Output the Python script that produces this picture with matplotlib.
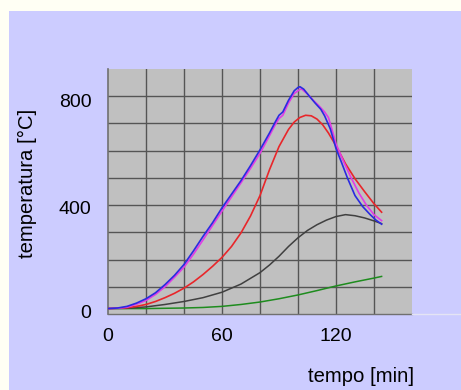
import matplotlib
matplotlib.use("Agg")
import matplotlib.pyplot as plt
from matplotlib.patches import Rectangle
from matplotlib.lines import Line2D
from matplotlib.transforms import ScaledTranslation

plt.rcParams['font.family'] = ['Liberation Sans', 'DejaVu Sans']

# Data (tempo [min], temperatura [°C])
blue_x = [0, 5, 10, 15, 20, 25, 30, 35, 40, 45, 50, 55, 60, 65, 70, 75, 80, 85, 88, 90, 92, 95, 98, 100, 101, 103, 106, 109, 112, 114, 117, 120, 123, 126, 130, 134, 138, 141, 144]
blue_y = [20, 22, 28, 40, 56, 78, 108, 142, 182, 232, 285, 335, 390, 440, 490, 545, 603, 665, 705, 730, 742, 785, 820, 832, 835, 826, 800, 775, 752, 728, 680, 608, 555, 500, 435, 395, 365, 345, 330]

magenta_x = [0, 5, 10, 15, 20, 25, 30, 35, 40, 45, 50, 55, 60, 65, 70, 75, 80, 85, 88, 90, 92, 95, 98, 101, 102, 105, 108, 111, 114, 116, 118, 120, 124, 128, 132, 136, 140, 144]
magenta_y = [20, 21, 25, 36, 50, 72, 100, 135, 172, 220, 272, 325, 378, 430, 482, 535, 590, 655, 695, 718, 730, 775, 810, 825, 826, 808, 785, 765, 742, 722, 675, 625, 560, 500, 445, 400, 365, 343]

red_x = [0, 10, 15, 20, 25, 30, 35, 40, 45, 50, 55, 60, 65, 70, 75, 80, 85, 90, 95, 98, 101, 104, 107, 110, 113, 116, 120, 125, 130, 135, 140, 144]
red_y = [20, 23, 28, 35, 46, 60, 76, 95, 118, 145, 175, 208, 248, 298, 360, 435, 530, 615, 678, 705, 722, 730, 728, 716, 695, 665, 618, 552, 497, 450, 405, 374]

black_x = [0, 10, 20, 30, 40, 50, 60, 70, 80, 85, 90, 95, 100, 105, 110, 115, 120, 125, 130, 135, 140, 144]
black_y = [20, 21, 26, 35, 46, 60, 80, 110, 152, 180, 212, 248, 280, 307, 328, 345, 358, 365, 361, 353, 342, 332]

green_x = [0, 20, 40, 50, 60, 70, 80, 90, 100, 110, 120, 130, 140, 144]
green_y = [20, 20, 22, 24, 28, 35, 44, 56, 70, 86, 103, 118, 132, 138]

x_ticks = [0, 60, 120]
y_ticks = [0, 400, 800]

W, H = 461, 390
fig = plt.figure(figsize=(W / 100, H / 100), dpi=100, facecolor='#FFFFF4')
bg = Rectangle((9 / W, 0), 1 - 9 / W, 1 - 11 / H, transform=fig.transFigure,
               facecolor='#CCCCFF', edgecolor='none', zorder=-10)
fig.add_artist(bg)

left, right, top, bottom = 108, 412, 69, 314
ax = fig.add_axes([left / W, 1 - bottom / H, (right - left) / W, (bottom - top) / H])
ax.set_zorder(1)
ax.set_facecolor('#C0C0C0')
ax.set_xlim(0, 160)
ax.set_ylim(0, 900)

for gx in range(20, 160, 20):
    ax.axvline(gx, color='#555555', lw=1.0, zorder=1)
for gy in range(100, 900, 100):
    ax.axhline(gy, color='#555555', lw=1.0, zorder=1)

for s in ['top', 'right']:
    ax.spines[s].set_visible(False)
ax.spines['left'].set_color('#707070')
ax.spines['bottom'].set_color('#707070')
ax.spines['left'].set_linewidth(1.2)
ax.spines['bottom'].set_linewidth(1.0)

ax.plot(green_x, green_y, color='#1E8C1E', lw=1.1, zorder=3)
ax.plot(black_x, black_y, color='#404040', lw=1.1, zorder=3)
ax.plot(red_x, red_y, color='#E8262A', lw=1.2, zorder=3)
ax.plot(magenta_x, magenta_y, color='#E23BE6', lw=1.2, zorder=4)
ax.plot(blue_x, blue_y, color='#2A2AE0', lw=1.2, zorder=5)

ax.set_xticks(x_ticks)
ax.set_yticks(y_ticks)
ax.tick_params(length=0, labelsize=14, colors='black', pad=10)
ax.tick_params(axis='y', pad=12)
y_label_shift_px = [3, -2, -4]  # per-label vertical nudge (0, 400, 800)
for lbl, dy in zip(ax.get_yticklabels(), y_label_shift_px):
    lbl.set_transform(lbl.get_transform() + ScaledTranslation(0, dy / 100, fig.dpi_scale_trans))

# extended x-axis line to the right edge
fig.add_artist(Line2D([right / W, 1], [1 - bottom / H, 1 - bottom / H], transform=fig.transFigure,
                      color='#E4E4F4', lw=1.0, zorder=2))

fig.text(27 / W, 1 - 183 / H, 'temperatura [°C]', rotation=90, ha='center', va='center', fontsize=14.6)
fig.text(361 / W, 1 - 377 / H, 'tempo [min]', ha='center', va='center', fontsize=14.6)

fig.savefig('out.png', dpi=100, facecolor=fig.get_facecolor())
